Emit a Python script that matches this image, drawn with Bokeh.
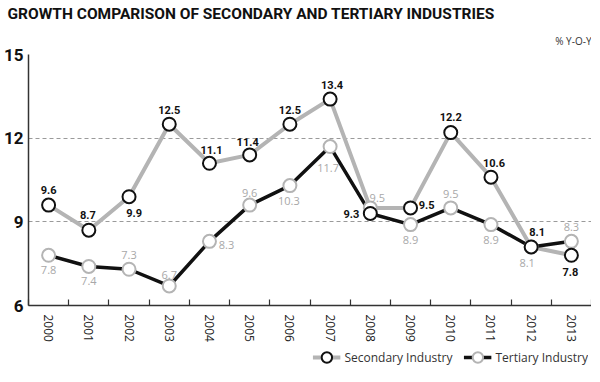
import math
from bokeh.plotting import figure
from bokeh.layouts import column
from bokeh.models import FixedTicker, Range1d, Legend, LegendItem, Title
from bokeh.core.properties import value
from bokeh.embed import file_html
from bokeh.resources import INLINE

# ---- data ----
years = ["2000", "2001", "2002", "2003", "2004", "2005", "2006",
         "2007", "2008", "2009", "2010", "2011", "2012", "2013"]
secondary = [9.6, 8.7, 9.9, 12.5, 11.1, 11.4, 12.5, 13.4, 9.3, 9.5, 12.2, 10.6, 8.1, 7.8]
tertiary = [7.8, 7.4, 7.3, 6.7, 8.3, 9.6, 10.3, 11.7, 9.5, 8.9, 9.5, 8.9, 8.1, 8.3]
# the drawn lines trade their 2008 points in the source picture
gray_line = [9.6, 8.7, 9.9, 12.5, 11.1, 11.4, 12.5, 13.4, 9.5, 9.5, 12.2, 10.6, 8.1, 7.8]
black_line = [7.8, 7.4, 7.3, 6.7, 8.3, 9.6, 10.3, 11.7, 9.3, 8.9, 9.5, 8.9, 8.1, 8.3]
y_ticks = [6, 9, 12, 15]
grid_ticks = [9, 12, 15]
series_names = ["Secondary Industry", "Tertiary Industry"]

# ---- label placement (pixels, style only) ----
sec_dx = [0, -1, 5, 0, 2, -2, 0, 2, -19, 16, 0, 3, 6, -1]
sec_dy = [-15, -15, 16, -14, -13, -13, -14, -14, 1, -3, -16, -14, -15, 17]
ter_dx = [0, 0, 0, 0, 17, 0, -1, -2, 7, 0, 0, 0, -4, 0]
ter_dy = [15, 15, -14, -11, 4, -12, 15, 21, -10, 15, -14, 15, 16, -14]

GRAY = "#b4b4b4"
LABEL_GRAY = "#a8a8a8"
DARK = "#111111"
BOLDF = "Roboto"

xs = list(range(len(years)))

p = figure(frame_width=563, frame_height=251, x_range=Range1d(-0.5, len(years) - 0.5),
           y_range=Range1d(y_ticks[0], y_ticks[-1]),
           output_backend="svg", toolbar_location=None,
           min_border_left=21, min_border_right=0, min_border_top=0, min_border_bottom=0)
p.outline_line_color = None
p.background_fill_color = "white"

# x axis
p.xaxis.ticker = FixedTicker(ticks=xs, minor_ticks=[i - 0.5 for i in range(len(years) + 1)])
p.xaxis.major_label_overrides = {i: y for i, y in enumerate(years)}
p.xaxis.major_label_orientation = -math.pi / 2
p.xaxis.major_tick_line_color = None
p.xaxis.major_tick_out = 0
p.xaxis.major_tick_in = 0
p.xaxis.minor_tick_in = 6
p.xaxis.minor_tick_out = 0
p.xaxis.minor_tick_line_color = "#333333"
p.xaxis.minor_tick_line_width = 1.2
p.xaxis.axis_line_color = "#333333"
p.xaxis.axis_line_width = 1.5
p.xaxis.major_label_text_font = "Open Sans"
p.xaxis.major_label_text_font_size = "12px"
p.xaxis.major_label_text_color = "#222222"
p.xaxis.major_label_standoff = 9

# y axis
p.yaxis.ticker = FixedTicker(ticks=y_ticks)
p.yaxis.major_tick_line_color = None
p.yaxis.major_tick_out = 0
p.yaxis.major_tick_in = 0
p.yaxis.minor_tick_line_color = None
p.yaxis.axis_line_color = "#333333"
p.yaxis.axis_line_width = 1.5
p.yaxis.major_label_text_font = BOLDF
p.yaxis.major_label_text_font_style = "bold"
p.yaxis.major_label_text_font_size = "17px"
p.yaxis.major_label_text_color = DARK
p.yaxis.major_label_standoff = 5

p.xgrid.visible = False
p.ygrid.ticker = FixedTicker(ticks=grid_ticks)
p.ygrid.grid_line_color = "#9a9a9a"
p.ygrid.grid_line_dash = "4 3"
p.ygrid.grid_line_width = 1

p.line(xs, gray_line, line_color=GRAY, line_width=4)
p.line(xs, black_line, line_color=DARK, line_width=3.5)
p.scatter(xs, tertiary, size=13, fill_color="white", line_color=GRAY, line_width=2)
p.scatter(xs, secondary, size=13, fill_color="white", line_color=DARK, line_width=2)

p.text(x=xs, y=secondary, text=[f"{v:.1f}" for v in secondary],
       x_offset=sec_dx, y_offset=sec_dy, text_align="center", text_baseline="middle",
       text_font=value(BOLDF), text_font_style="bold", text_font_size="11px",
       text_color=DARK)
p.text(x=xs, y=tertiary, text=[f"{v:.1f}" for v in tertiary],
       x_offset=ter_dx, y_offset=ter_dy, text_align="center", text_baseline="middle",
       text_font=value("Open Sans"), text_font_size="11px", text_color=LABEL_GRAY)

p.add_layout(Title(text="% Y-O-Y", align="right", text_font="Open Sans",
                   text_font_style="normal", text_font_size="10px",
                   text_color="#333333", standoff=14), "above")
p.add_layout(Title(text="GROWTH COMPARISON OF SECONDARY AND TERTIARY INDUSTRIES",
                   align="left", text_font=BOLDF, text_font_style="bold",
                   text_font_size="15.5px", text_color=DARK, offset=-21, standoff=4), "above")

# ---- legend strip (its own small figure under the chart) ----
# same series, but this strip's ranges keep them out of view: only the legend shows
lg = figure(width=588, height=26, x_range=Range1d(-3, -2), y_range=Range1d(-3, -2),
            output_backend="svg", toolbar_location=None,
            x_axis_location=None, y_axis_location=None,
            min_border_left=0, min_border_right=0, min_border_top=0, min_border_bottom=0)
lg.outline_line_color = None
lg.grid.visible = False
l_gl = lg.line(xs, gray_line, line_color=GRAY, line_width=4)
l_ss = lg.scatter(xs, secondary, size=13, fill_color="white", line_color=DARK, line_width=2)
l_bl = lg.line(xs, black_line, line_color=DARK, line_width=3.5)
l_ts = lg.scatter(xs, tertiary, size=13, fill_color="white", line_color=GRAY, line_width=2)
legend = Legend(items=[LegendItem(label=series_names[0], renderers=[l_gl, l_ss]),
                       LegendItem(label=series_names[1], renderers=[l_bl, l_ts])],
                orientation="horizontal", location="center_right",
                border_line_color=None, background_fill_alpha=0,
                label_text_font="Open Sans", label_text_font_size="12px",
                label_text_color="#333333", label_height=26,
                glyph_width=28, glyph_height=26, spacing=11, padding=0, margin=0,
                label_standoff=4)
lg.add_layout(legend, "center")

open("out.html", "w").write(file_html(column(p, lg, spacing=0), INLINE))
